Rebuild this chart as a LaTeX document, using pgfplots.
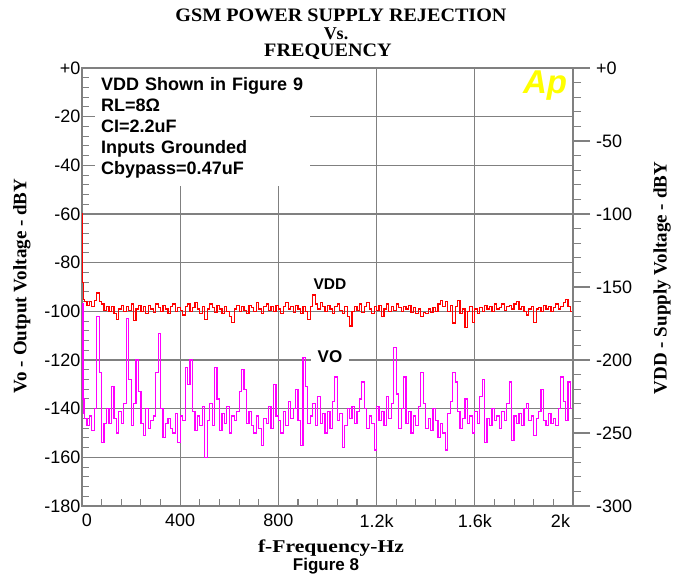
\documentclass[border=0pt]{standalone}
\usepackage{graphicx}
\usepackage{fontspec}
\setmainfont{Liberation Sans}
\newfontfamily\serifb{Liberation Serif}
\usepackage{pgfplots}
\usepackage{pgfplotstable}
\pgfplotsset{compat=1.18}
\definecolor{gridgray}{RGB}{128,128,128}
\definecolor{vddred}{RGB}{255,0,0}
\definecolor{vomag}{RGB}{255,0,255}
\definecolor{apyellow}{RGB}{255,255,0}

\pgfplotstableread{
x y
0 -60
3 -88
6 -95
10 -96
20 -97.5
30 -96
40 -98
50 -95.5
60 -92.5
70 -96
80 -97
90 -99.5
100 -98
110 -100
120 -98
130 -101
140 -103.5
150 -99
160 -97.5
170 -100
180 -98
190 -99.5
200 -97
210 -103.8
220 -99
230 -97.5
240 -100
250 -98
260 -101
270 -97.5
280 -99
290 -100.5
300 -97
310 -98.5
320 -100
330 -97.5
340 -99
350 -101
360 -98
370 -97
380 -100
390 -98.5
400 -99.5
410 -101.5
420 -98
430 -97
440 -100
450 -98.5
460 -96.5
470 -99
480 -101
490 -98
500 -103.3
510 -99
520 -97
530 -98.5
540 -100.5
550 -97.5
560 -99
570 -101
580 -98
590 -100
600 -102
610 -104.5
620 -99
630 -97.5
640 -100
650 -98
660 -99.5
670 -101
680 -97.5
690 -98.5
700 -100
710 -96.5
720 -99
730 -101
740 -98
750 -97
760 -99.5
770 -98
780 -100
790 -97.5
800 -99
810 -101
820 -98
830 -96.5
840 -99
850 -98
860 -100.5
870 -97.5
880 -99
890 -101
900 -98
910 -100
920 -103.5
930 -98
940 -93.3
950 -97
960 -99
970 -96.5
980 -98
990 -100
1000 -97.5
1010 -99
1020 -101
1030 -98
1040 -97
1050 -99.5
1060 -101
1070 -98
1080 -102
1090 -106
1100 -100
1110 -98
1120 -99.5
1130 -97
1140 -100.5
1150 -98
1160 -96.5
1170 -99
1180 -101
1190 -98
1200 -99.5
1210 -97.5
1220 -102
1230 -99
1240 -97
1250 -100
1260 -98
1270 -99.5
1280 -97
1290 -98.5
1300 -100
1310 -98
1320 -99
1330 -97.5
1340 -100.5
1350 -98.5
1360 -101
1370 -99
1380 -102
1390 -100.5
1400 -101
1410 -99
1420 -100.5
1430 -98.5
1440 -100
1450 -97
1460 -95.5
1470 -98
1480 -96
1490 -100
1500 -97.5
1510 -104.8
1520 -98
1530 -95.5
1540 -101
1550 -99
1560 -106.5
1570 -100
1580 -98
1590 -104.5
1600 -99
1610 -101
1620 -98.5
1630 -100
1640 -97.5
1650 -99
1660 -98
1670 -100
1680 -97
1690 -99
1700 -98.5
1710 -97
1720 -99.5
1730 -98
1740 -97.5
1750 -99
1760 -97
1770 -96
1780 -99
1790 -98
1800 -100
1810 -101.5
1820 -99
1830 -98
1840 -104.5
1850 -99
1860 -98.5
1870 -100
1880 -97.5
1890 -99
1900 -98
1910 -100
1920 -98.5
1930 -97
1940 -99
1950 -98
1960 -96.5
1970 -95
1980 -98
1990 -100
2000 -99
}\vddtable

\pgfplotstableread{
x y
0 -97
4 -136
8 -142
10 -144
20 -147
30 -143
40 -149
50 -140
60 -102
70 -125
80 -154
90 -146
100 -140
110 -146
120 -131
130 -144
140 -150
150 -141
160 -146
170 -138
180 -103
190 -128
200 -147
210 -138
220 -120
230 -133
240 -146
250 -151
260 -140
270 -148
280 -145
290 -143
300 -125
310 -109
320 -140
330 -152
340 -146
350 -144
360 -148
370 -150
380 -142
390 -154
400 -143
410 -145
420 -123
430 -130
440 -120
450 -141
460 -149
470 -143
480 -147
490 -139
500 -160
510 -145
520 -138
530 -147
540 -123
550 -136
560 -149
570 -142
580 -146
590 -139
600 -150
610 -143
620 -145
630 -141
640 -133
650 -124
660 -132
670 -146
680 -141
690 -147
700 -150
710 -143
720 -148
730 -155
740 -144
750 -146
760 -139
770 -148
780 -130
790 -143
800 -145
810 -150
820 -141
830 -147
840 -137
850 -144
860 -140
870 -132
880 -145
890 -155
900 -119
910 -131
920 -146
930 -143
940 -138
950 -147
960 -135
970 -146
980 -142
990 -150
1000 -141
1010 -148
1020 -137
1030 -127
1040 -145
1050 -142
1060 -156
1070 -147
1080 -140
1090 -144
1100 -139
1110 -146
1120 -141
1130 -136
1140 -129
1150 -140
1160 -148
1170 -143
1180 -146
1190 -157
1200 -139
1210 -145
1220 -141
1230 -147
1240 -135
1250 -144
1260 -138
1270 -115
1280 -134
1290 -148
1300 -140
1310 -127
1320 -146
1330 -141
1340 -150
1350 -143
1360 -147
1370 -139
1380 -125
1390 -138
1400 -148
1410 -144
1420 -149
1430 -140
1440 -145
1450 -152
1460 -146
1470 -150
1480 -157
1490 -142
1500 -137
1510 -125
1520 -129
1530 -141
1540 -148
1550 -144
1560 -136
1570 -146
1580 -143
1590 -150
1600 -141
1610 -146
1620 -135
1630 -128
1640 -154
1650 -144
1660 -147
1670 -140
1680 -145
1690 -143
1700 -148
1710 -141
1720 -145
1730 -138
1740 -129
1750 -153
1760 -143
1770 -146
1780 -142
1790 -147
1800 -140
1810 -138
1820 -145
1830 -143
1840 -151
1850 -144
1860 -141
1870 -132
1880 -145
1890 -147
1900 -142
1910 -146
1920 -144
1930 -147
1940 -140
1950 -127
1960 -137
1970 -145
1980 -129
1990 -140
2000 -154
}\votable

\begin{document}
\begin{tikzpicture}
\useasboundingbox (-82pt,-73pt) rectangle (597pt,506pt);
\begin{axis}[
  at={(0,0)}, anchor=south west, scale only axis,
  width=491pt, height=438pt,
  xmin=0, xmax=2000, ymin=-180, ymax=0,
  clip=false,
  axis line style={draw=gridgray, line width=1.3pt},
  xtick={0,400,800,1200,1600,2000},
  xticklabels={\rlap{0},400,800,1.2k,1.6k,\llap{2k\,}},
  ytick={-180,-160,-140,-120,-100,-80,-60,-40,-20,0},
  yticklabels={-180,-160,-140,-120,-100,-80,-60,-40,-20,+0},
  minor x tick num=4, minor y tick num=4,
  xtick pos=left, ytick pos=left,
  tick align=inside,
  major tick length=7pt, minor tick length=7pt,
  tick style={draw=gridgray, line width=1.1pt},
  grid=major,
  major grid style={draw=gridgray, line width=1.2pt},
  ticklabel style={font=\fontsize{18}{18}\selectfont, text=black},
  yticklabel style={inner xsep=1.5pt},
  xticklabel style={inner sep=0pt, yshift=-8pt},
]
\addplot[vddred, line width=1.2pt, const plot] table[x=x,y=y] {\vddtable};
\addplot[vomag, line width=1.2pt, const plot] table[x=x,y=y] {\votable};
\node[fill=white, inner xsep=7pt, inner ysep=2pt, font=\bfseries\fontsize{15.5}{16}\selectfont] at (axis cs:1010,-88.8) {VDD};
\node[fill=white, inner xsep=7pt, inner ysep=2pt, font=\bfseries\fontsize{17}{17}\selectfont] at (axis cs:1010,-118.8) {VO};
\end{axis}
\begin{axis}[
  at={(0,0)}, anchor=south west, scale only axis,
  width=491pt, height=438pt,
  xmin=0, xmax=2000, ymin=-300, ymax=0,
  axis x line=none, axis y line*=right,
  y axis line style={draw=gridgray, line width=1.3pt},
  ytick={-300,-250,-200,-150,-100,-50,0},
  yticklabels={-300,-250,-200,-150,-100,-50,+0},
  minor y tick num=4,
  tick align=outside,
  major tick length=17pt, minor tick length=8pt,
  tick style={draw=gridgray, line width=1.1pt},
  ticklabel style={font=\fontsize{18}{18}\selectfont, text=black},
  yticklabel style={anchor=west, inner sep=0pt, xshift=6pt},
]
\end{axis}
% annotation box
\node[anchor=north west, fill=white, inner xsep=6pt, inner ysep=8pt, text width=203pt, align=left,
      font=\bfseries\fontsize{18}{21}\selectfont] at (13pt,437.2pt)
  {VDD Shown in Figure 9\\RL=8Ω\\CI=2.2uF\\Inputs Grounded\\Cbypass=0.47uF};
\node[text=apyellow, font=\bfseries\itshape\fontsize{33}{33}\selectfont] at (463pt,420pt) {Ap};
% titles
\node[anchor=base, inner sep=0pt, font=\serifb\bfseries\fontsize{19}{19}\selectfont] at (259pt,484pt) {\scalebox{1.06}[1]{GSM POWER SUPPLY REJECTION}};
\node[anchor=base, inner sep=0pt, font=\serifb\bfseries\fontsize{18}{18}\selectfont] at (254pt,466.5pt) {Vs.};
\node[anchor=base, inner sep=0pt, font=\serifb\bfseries\fontsize{19}{19}\selectfont] at (246pt,449pt) {\scalebox{1.06}[1]{FREQUENCY}};
% axis labels
\node[rotate=90, font=\serifb\bfseries\fontsize{19}{19}\selectfont] at (-60pt,220pt) {Vo - Output Voltage - dBY};
\node[rotate=90, font=\serifb\bfseries\fontsize{19}{19}\selectfont] at (580pt,228pt) {VDD - Supply Voltage - dBY};
\node[font=\serifb\bfseries\fontsize{18}{18}\selectfont] at (249pt,-42pt) {\scalebox{1.2}[1]{f-Frequency-Hz}};
\node[font=\bfseries\fontsize{17}{17}\selectfont] at (244pt,-60pt) {Figure 8};
\end{tikzpicture}
\end{document}
